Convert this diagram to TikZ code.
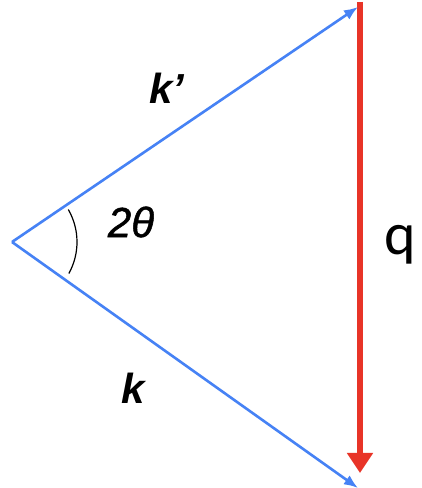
\documentclass[tikz,border=0pt]{standalone}
\usepackage{fontspec}
\setmainfont{Liberation Sans}
\newfontfamily\qfont{Carlito}
\newfontfamily\medfont[FakeBold=1.2]{Liberation Sans}
\usetikzlibrary{arrows.meta}
\definecolor{vecblue}{RGB}{70,130,245}
\definecolor{vecred}{RGB}{232,52,40}
\tikzset{
  kvec/.style={draw=vecblue, line width=2.6pt, -{Latex[length=14pt,width=11pt]}},
  qvec/.style={draw=vecred, line width=6pt, -{Triangle[length=20pt,width=25pt]}},
  lbl/.style={inner sep=0pt},
}
\begin{document}
\begin{tikzpicture}[x=1pt,y=1pt]
\useasboundingbox[fill=white] (0,0) rectangle (421,488);
\coordinate (A) at (12,246);
\coordinate (T) at (358,481);
\coordinate (B) at (358,0);
\coordinate (Qt) at (360,486);
\coordinate (Qb) at (360,15);
\draw[qvec] (Qt) -- (Qb);
\draw[kvec] (A) -- (T);
\draw[kvec] (A) -- (B);
\draw[black, line width=1.2pt] ([shift={(30:65)}]A) arc[start angle=30, end angle=-29, radius=65];
\node[lbl, font=\fontsize{42}{46}\selectfont\bfseries\itshape] (kp) at (167,400) {k’};
\node[lbl, font=\fontsize{42}{46}\selectfont\bfseries\itshape] (k) at (133,100) {k};
\node[lbl, font=\fontsize{42}{46}\selectfont\medfont\itshape] (th) at (131,266) {2θ};
\node[lbl, font=\fontsize{60}{64}\selectfont\qfont] (q) at (400,243) {q};
\end{tikzpicture}
\end{document}
